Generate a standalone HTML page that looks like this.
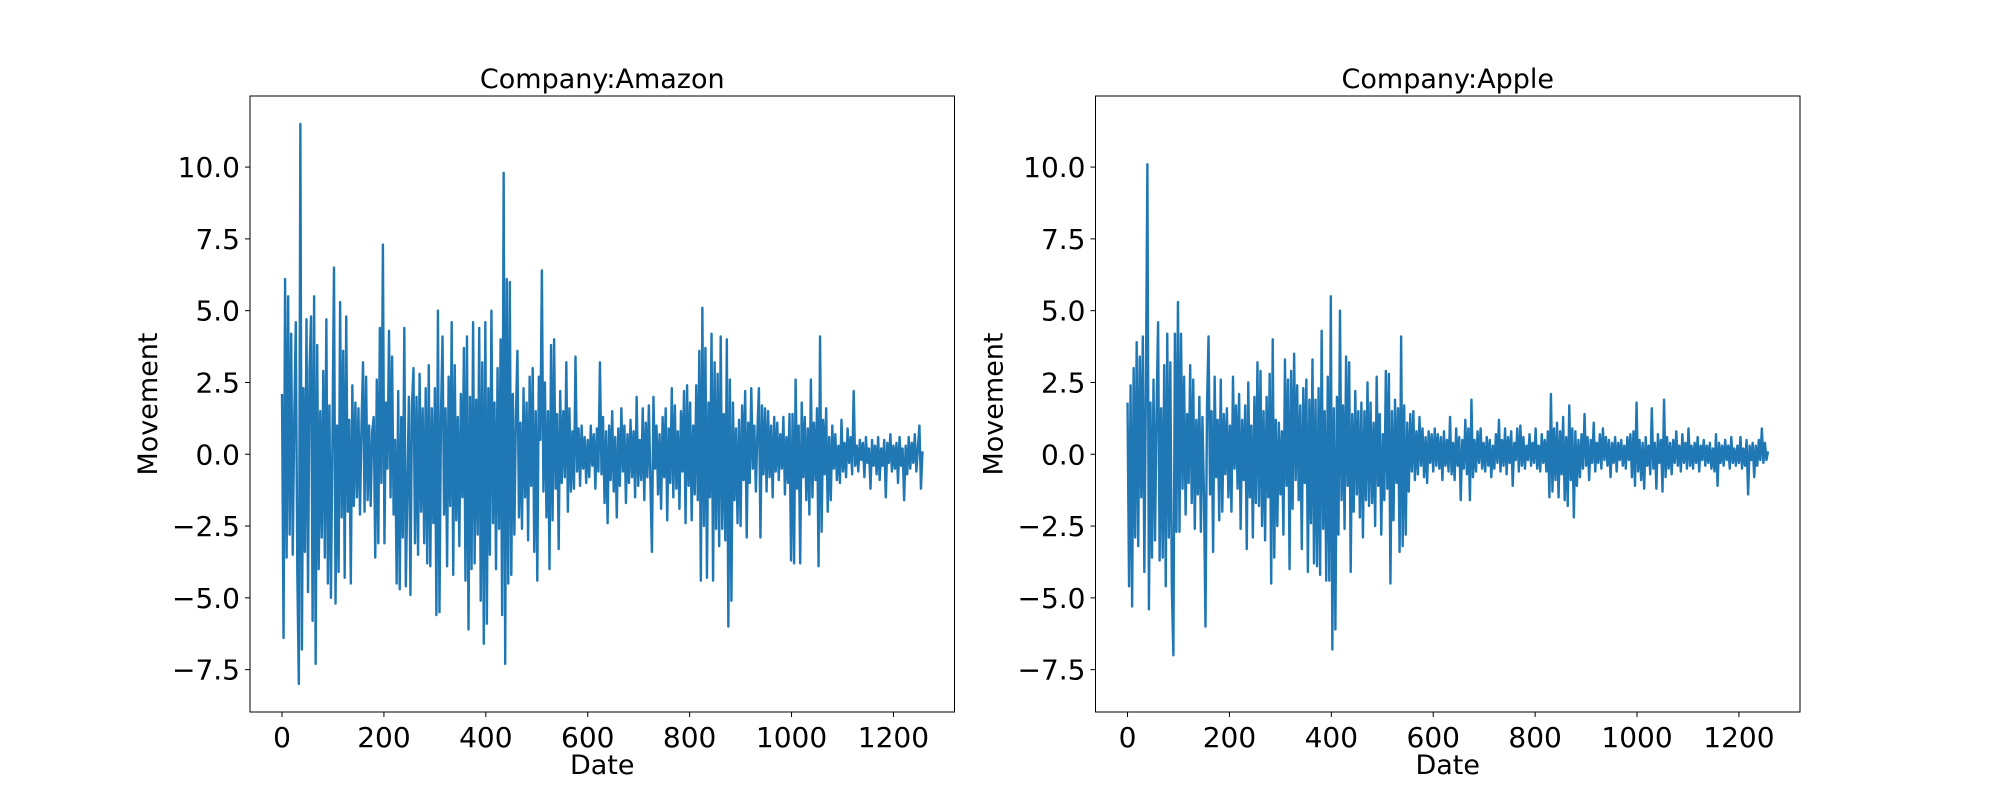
<!DOCTYPE html>
<html><head><meta charset="utf-8"><style>
html,body{margin:0;padding:0;background:#fff;}
svg{display:block;font-family:"DejaVu Sans","Liberation Sans",sans-serif;}
</style></head><body>
<svg id="fig" width="2000" height="800" xmlns="http://www.w3.org/2000/svg"></svg>
<script>
const companies = ["Amazon","Apple"];
const dateStep = 3;
const xTicks = [0,200,400,600,800,1000,1200];
const yTicks = [-7.5,-5.0,-2.5,0.0,2.5,5.0,7.5,10.0];
const amazonValues = [
2.1,-6.4,6.1,-3.6,5.5,-2.8,4.2,-3.5,1.2,4.6,
-4.1,-8.0,11.5,-6.8,2.3,-3.4,4.7,-4.8,3.0,4.8,
-5.8,5.5,-7.3,3.8,-4.0,1.5,-2.9,2.9,-3.6,4.7,
-4.5,1.7,-5.0,0.6,6.5,-5.2,1.0,-4.1,5.3,-2.2,
3.6,-4.3,4.8,-2.0,1.2,-4.5,2.4,-1.8,1.8,-1.5,
1.6,-2.1,1.0,3.2,-2.0,2.7,-1.6,1.0,-1.8,0.8,
1.3,-3.6,2.6,-3.1,4.4,-1.0,7.3,-3.1,1.8,-0.5,
4.3,-1.5,3.4,-2.1,0.5,-4.5,2.2,-4.7,1.3,-2.9,
4.4,-4.6,-1.2,2.0,-4.9,1.7,3.0,-3.1,2.0,-3.5,
2.8,-2.0,1.6,-3.1,2.3,-3.8,3.1,-3.9,1.6,-2.4,
2.3,-5.6,5.0,-5.5,1.4,4.1,-2.1,1.6,-3.9,2.7,
-1.8,4.6,-4.2,3.1,-2.3,1.3,-3.2,2.1,-1.5,3.7,
-4.4,4.1,-6.1,2.0,-4.0,4.6,-3.8,1.9,-2.8,4.4,
-5.1,3.2,-6.6,4.6,-5.9,2.3,-3.5,5.0,-2.4,1.8,
-4.0,3.0,-2.6,4.0,-5.6,9.8,-7.3,6.1,-4.5,6.0,
-4.2,2.1,-2.8,1.3,3.6,-2.2,1.1,-2.6,2.3,-1.5,
1.8,-3.0,2.7,-1.1,3.0,-3.4,1.5,-4.4,2.7,0.5,
6.4,-1.3,2.5,-2.2,1.5,-4.0,3.8,-2.3,4.0,-1.2,
1.4,-3.3,2.2,-1.0,1.5,-0.8,3.2,-2.0,1.6,-1.3,
0.8,-1.2,3.4,-0.6,0.9,-1.1,1.0,-0.5,0.6,-1.0,
0.5,-0.8,1.0,-0.4,0.7,-1.2,0.9,-0.6,3.2,-0.7,
1.3,-1.7,0.8,-2.4,1.0,-0.9,1.5,-1.3,0.6,-2.2,
0.9,-1.1,1.6,-0.6,1.0,-1.7,0.7,-1.0,1.2,-0.8,
0.8,-1.5,2.0,-1.1,0.5,-0.9,1.6,-1.6,1.1,-0.8,
1.7,-1.0,-3.4,2.0,-0.5,1.0,-1.4,0.7,-1.9,1.3,
-0.8,1.6,-2.3,0.9,-1.0,2.3,-1.5,1.7,-1.2,0.8,
-1.9,1.5,-0.6,2.2,-2.4,2.4,-1.1,1.8,-2.3,1.0,
-1.4,2.4,-1.6,3.6,-4.4,5.1,-2.5,3.7,-4.3,1.8,
-1.5,4.2,-4.4,3.2,-2.6,2.8,-3.2,4.1,-2.6,1.4,
-3.0,4.0,-6.0,2.6,-5.1,1.8,-1.6,0.9,-2.4,1.2,
-2.5,1.7,-0.9,2.2,-2.9,1.1,-1.0,2.3,-0.5,1.0,
-1.3,0.8,2.3,-2.9,1.7,-0.7,1.6,-1.3,1.5,-0.8,
1.0,-1.5,1.3,-0.6,1.1,-0.9,0.7,-0.5,1.3,-1.4,
0.6,-1.0,1.4,-3.7,1.4,-3.8,2.6,-1.2,1.0,-3.8,
1.8,-0.8,1.3,-1.6,0.9,-2.1,2.6,-1.5,1.1,-0.9,
1.6,-3.9,4.1,-2.7,1.2,-0.7,1.6,-2.0,0.6,-1.6,
1.0,-0.5,0.7,-0.9,0.3,-1.0,1.2,-0.6,0.4,-0.8,
0.9,-0.3,0.6,-0.7,2.2,-0.4,0.3,-0.6,0.5,-0.2,
0.4,-0.8,0.6,-0.3,0.2,-1.2,0.5,-0.4,0.3,-0.7,
0.6,-0.9,0.2,-0.4,0.5,-1.5,0.4,-0.3,0.7,-0.6,
0.3,-0.5,0.4,-1.0,0.6,-0.4,0.2,-1.6,0.3,-0.7,
0.6,-0.5,0.4,-0.3,0.7,-0.6,0.2,1.0,-1.2,0.1];
const appleValues = [
1.8,-4.6,2.4,-5.3,3.0,-2.9,3.9,-3.2,3.4,-1.5,
4.1,-4.1,2.2,10.1,-5.4,1.8,-3.6,2.6,-3.0,1.5,
4.6,-3.7,1.6,-3.6,3.1,-4.6,4.2,-2.9,3.2,-4.7,
-7.0,4.2,-2.7,5.3,-2.7,4.2,-1.2,2.7,-2.1,1.4,
-1.0,3.1,-1.7,2.6,-2.6,1.2,-1.4,2.0,-2.7,1.3,
-1.4,-6.0,1.7,4.1,-1.4,1.5,-3.4,2.7,-0.8,1.2,
-2.3,2.6,-2.0,1.4,-0.7,1.6,-1.5,1.0,-2.0,2.7,
-0.5,1.7,-1.2,2.1,-2.6,1.2,-0.9,1.7,-3.3,2.5,
-1.5,1.0,-2.9,2.0,-1.7,3.2,-1.8,2.9,-2.5,1.5,
-3.0,2.0,-1.5,2.8,-4.5,4.0,-3.6,1.2,-2.5,1.1,
-1.4,0.8,-2.8,3.3,-1.1,2.6,-4.0,2.9,-1.9,3.5,
-0.9,2.4,-1.6,1.7,-3.3,2.3,-1.0,2.6,-4.1,1.9,
-2.4,3.3,-3.8,1.9,-3.9,2.3,-4.2,4.3,-2.6,1.5,
-4.4,2.7,-4.4,5.5,-6.8,1.6,-6.1,2.0,-2.8,5.0,
-1.6,1.7,-2.6,3.4,-1.1,3.2,-4.1,1.4,-2.0,2.2,
-1.4,1.5,-2.2,1.8,-2.9,1.5,-1.6,2.5,-1.8,1.8,
-1.7,1.1,-2.5,2.7,-1.1,1.4,-2.8,0.7,-1.6,2.9,
-1.2,2.8,-4.5,1.5,-2.3,1.9,-1.0,1.6,-3.4,4.1,
-3.2,1.7,-2.8,1.1,-1.3,1.4,-0.6,1.5,-0.9,0.8,
-0.7,1.3,-0.4,0.9,-0.8,0.6,-1.0,0.8,-0.3,0.7,
-0.6,0.9,-0.4,0.7,-0.5,0.6,-0.9,0.8,-0.4,0.5,
-0.6,1.3,-0.7,0.4,-0.9,0.9,-0.4,0.6,-1.6,0.5,
-0.5,1.2,-0.7,0.9,-1.6,1.9,-0.8,0.5,-0.6,0.8,
-0.3,0.9,-0.5,0.4,-0.6,0.6,-0.4,0.5,-0.8,0.3,
-0.5,0.7,-0.3,1.2,-0.6,0.5,-0.4,0.9,-0.7,0.6,
-0.3,0.8,-1.1,0.4,-0.2,0.9,-0.6,1.0,-0.4,0.6,
-0.5,0.3,-0.2,0.7,-0.4,0.4,-0.3,0.9,-0.5,0.3,
-0.6,0.7,-0.3,0.5,-0.6,0.8,-1.5,2.1,-1.3,0.9,
-0.9,1.1,-1.5,0.8,-0.7,1.3,-1.6,0.6,-1.8,1.7,
-0.9,0.9,-2.2,0.8,-1.1,0.5,-0.8,0.7,-0.5,1.4,
-0.4,0.6,-0.9,0.5,-0.3,1.1,-0.6,0.4,-0.3,0.7,
-0.5,0.9,-0.2,0.6,-0.4,0.5,-0.8,0.4,-0.3,0.6,
-0.6,0.4,-0.2,0.5,-0.4,0.3,-0.5,0.6,-0.2,0.7,
-0.8,0.8,-1.1,1.8,-0.6,0.5,-0.9,0.4,-1.2,0.6,
-0.4,0.3,-0.7,1.6,-0.5,0.4,-1.2,0.7,-0.3,0.5,
-1.3,1.9,-0.8,0.6,-0.5,0.4,-0.7,0.5,-0.3,0.8,
-0.4,0.3,-0.6,0.7,-0.3,0.4,-0.5,0.9,-0.4,0.3,
-0.5,0.4,-0.3,0.6,-0.6,0.3,-0.2,0.5,-0.4,0.3,
-0.3,0.4,-0.5,0.2,-0.6,0.7,-1.1,0.4,-0.3,0.3,
-0.4,0.5,-0.2,0.3,-0.5,0.6,-0.3,0.2,-0.4,0.3,
-0.3,0.6,-0.5,0.2,-0.4,0.5,-1.4,0.3,-0.2,0.4,
-0.8,0.3,-0.4,0.5,-0.2,0.9,-0.3,0.4,-0.2,0.1];

const NS = "http://www.w3.org/2000/svg";
const svg = document.getElementById("fig");
function mk(tag, attrs, parent){
  const e = document.createElementNS(NS, tag);
  for (const k in attrs) e.setAttribute(k, attrs[k]);
  (parent||svg).appendChild(e);
  return e;
}
const series = [amazonValues, appleValues];
const axLefts = [250, 1095.5];
const axW = 704.5, axTop = 96, axBot = 712;
let allMin = Infinity, allMax = -Infinity;
series.forEach(s => s.forEach(v => { if (v < allMin) allMin = v; if (v > allMax) allMax = v; }));
const yPad = (allMax - allMin) * 0.05;
const yMin = allMin - yPad, yMax = allMax + yPad;

series.forEach((vals, idx) => {
  const L = axLefts[idx];
  const xMaxData = (vals.length - 1) * dateStep;
  const xPad = xMaxData * 0.05;
  const xMin = -xPad, xMax = xMaxData + xPad;
  const X = v => L + (v - xMin) / (xMax - xMin) * axW;
  const Y = v => axBot - (v - yMin) / (yMax - yMin) * (axBot - axTop);
  const g = mk("g", {});
  
  

  let d = "";
  vals.forEach((v, i) => { d += (i ? "L" : "M") + X(i * dateStep).toFixed(2) + "," + Y(v).toFixed(2); });
  const p = mk("path", {d: d, fill: "none", stroke: "#1f77b4", "stroke-width": 2.4, "stroke-linejoin": "round"}, g);
  
  

  const fr = mk("rect", {x: L, y: axTop, width: axW, height: axBot - axTop, fill: "none", stroke: "#000", "stroke-width": 1}, g);
  
  

  xTicks.forEach(t => {
    const x = X(t);
    const tk = mk("line", {x1: x, x2: x, y1: axBot, y2: axBot + 5, stroke: "#000", "stroke-width": 1}, g);
    
    
    const tl = mk("text", {x: x, y: axBot + 35, "font-size": 28, "text-anchor": "middle", fill: "#000"}, g);
    tl.textContent = String(t);
    
    
  });
  yTicks.forEach(t => {
    const y = Y(t);
    const tk = mk("line", {x1: L - 5, x2: L, y1: y, y2: y, stroke: "#000", "stroke-width": 1}, g);
    
    
    const tl = mk("text", {x: L - 10, y: y + 10, "font-size": 28, "text-anchor": "end", fill: "#000"}, g);
    tl.textContent = (t < 0 ? "\u2212" : "") + Math.abs(t).toFixed(1);
    
    
  });
  const ti = mk("text", {x: L + axW / 2, y: 88, "font-size": 27, "text-anchor": "middle", fill: "#000"}, g);
  ti.textContent = "Company:" + companies[idx];
  
  
  const xl = mk("text", {x: L + axW / 2, y: 774, "font-size": 27, "text-anchor": "middle", fill: "#000"}, g);
  xl.textContent = "Date";
  
  
  const cy = (axTop + axBot) / 2;
  const yl = mk("text", {x: L - 93, y: cy, "font-size": 27, "text-anchor": "middle", fill: "#000", transform: "rotate(-90 " + (L - 93) + " " + cy + ")"}, g);
  yl.textContent = "Movement";
  
  
});
</script>
</body></html>
